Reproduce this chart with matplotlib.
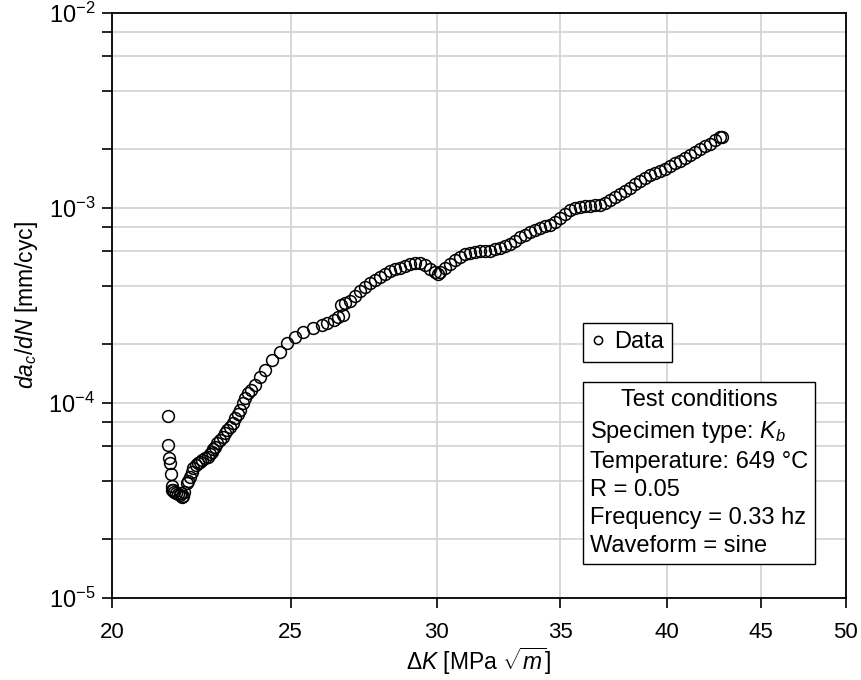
import matplotlib
matplotlib.use("Agg")
import matplotlib.pyplot as plt
from matplotlib.ticker import LogLocator, NullLocator, FixedLocator, FixedFormatter
from matplotlib.offsetbox import TextArea, VPacker, AnchoredOffsetbox

plt.rcParams['font.family'] = ['Liberation Sans', 'DejaVu Sans']
plt.rcParams['mathtext.fontset'] = 'custom'
plt.rcParams['mathtext.rm'] = 'Liberation Sans'
plt.rcParams['mathtext.it'] = 'Liberation Sans:italic'
plt.rcParams['mathtext.bf'] = 'Liberation Sans:bold'

# crack growth data
delta_k = [
    21.45, 21.45, 21.48, 21.50, 21.52, 21.55, 21.55, 21.59, 21.62, 21.66,
    21.72, 21.77, 21.80, 21.82, 21.85, 21.87, 21.95, 22.00, 22.05, 22.09,
    22.13, 22.20, 22.26, 22.33, 22.39, 22.47, 22.55, 22.60, 22.65, 22.70,
    22.74, 22.81, 22.89, 22.96, 23.03, 23.10, 23.18, 23.25, 23.32, 23.40,
    23.47, 23.55, 23.62, 23.70, 23.80, 23.91, 24.06, 24.21, 24.41, 24.67,
    24.88, 25.13, 25.40, 25.72, 26.00, 26.16, 26.38, 26.52, 26.62, 26.70,
    26.75, 26.92, 27.09, 27.26, 27.43, 27.60, 27.77, 27.95, 28.12, 28.30,
    28.48, 28.65, 28.83, 29.01, 29.20, 29.38, 29.56, 29.75, 29.93, 30.05,
    30.12, 30.31, 30.50, 30.69, 30.88, 31.08, 31.27, 31.47, 31.66, 31.86,
    32.06, 32.26, 32.46, 32.67, 32.87, 33.08, 33.28, 33.49, 33.70, 33.91,
    34.13, 34.34, 34.55, 34.77, 34.99, 35.21, 35.43, 35.65, 35.87, 36.10,
    36.32, 36.55, 36.78, 37.01, 37.24, 37.48, 37.71, 37.95, 38.18, 38.42,
    38.66, 38.91, 39.15, 39.39, 39.64, 39.89, 40.14, 40.39, 40.64, 40.90,
    41.15, 41.41, 41.67, 41.93, 42.19, 42.46, 42.72, 42.83,
]
dadn = [
    8.6e-5, 6.1e-5, 5.2e-5, 4.9e-5, 4.3e-5, 3.75e-5, 3.6e-5, 3.58e-5, 3.5e-5, 3.47e-5,
    3.42e-5, 3.37e-5, 3.45e-5, 3.30e-5, 3.35e-5, 3.51e-5, 3.89e-5, 4.0e-5, 4.19e-5, 4.45e-5,
    4.64e-5, 4.8e-5, 4.92e-5, 5.0e-5, 5.10e-5, 5.2e-5, 5.31e-5, 5.45e-5, 5.62e-5, 5.8e-5,
    5.97e-5, 6.2e-5, 6.46e-5, 6.7e-5, 7.02e-5, 7.3e-5, 7.55e-5, 7.9e-5, 8.37e-5, 8.8e-5,
    9.21e-5, 1.0e-4, 1.06e-4, 1.12e-4, 1.16e-4, 1.24e-4, 1.36e-4, 1.48e-4, 1.66e-4, 1.83e-4,
    2.02e-4, 2.19e-4, 2.32e-4, 2.42e-4, 2.51e-4, 2.56e-4, 2.67e-4, 2.75e-4, 3.18e-4, 2.83e-4,
    3.26e-4, 3.33e-4, 3.54e-4, 3.75e-4, 3.93e-4, 4.12e-4, 4.27e-4, 4.43e-4, 4.59e-4, 4.75e-4,
    4.87e-4, 4.95e-4, 5.04e-4, 5.16e-4, 5.22e-4, 5.22e-4, 5.10e-4, 4.87e-4, 4.70e-4, 4.61e-4,
    4.70e-4, 4.92e-4, 5.19e-4, 5.41e-4, 5.61e-4, 5.78e-4, 5.91e-4, 5.98e-4, 6.02e-4, 6.02e-4,
    6.05e-4, 6.16e-4, 6.27e-4, 6.35e-4, 6.54e-4, 6.77e-4, 7.06e-4, 7.31e-4, 7.53e-4, 7.71e-4,
    7.85e-4, 8.04e-4, 8.18e-4, 8.48e-4, 8.89e-4, 9.32e-4, 9.77e-4, 1.00e-3, 1.01e-3, 1.02e-3,
    1.02e-3, 1.03e-3, 1.04e-3, 1.06e-3, 1.10e-3, 1.14e-3, 1.18e-3, 1.22e-3, 1.27e-3, 1.32e-3,
    1.38e-3, 1.43e-3, 1.47e-3, 1.51e-3, 1.55e-3, 1.59e-3, 1.64e-3, 1.70e-3, 1.75e-3, 1.80e-3,
    1.87e-3, 1.94e-3, 2.00e-3, 2.07e-3, 2.14e-3, 2.22e-3, 2.30e-3, 2.31e-3,
]

x_ticks = [20, 25, 30, 35, 40, 45, 50]
conditions_title = "Test conditions"
conditions = [
    "Specimen type: $K_b$",
    "Temperature: 649 °C",
    "R = 0.05",
    "Frequency = 0.33 hz",
    "Waveform = sine",
]

fig = plt.figure(figsize=(8.62, 6.8), dpi=100)
ax = fig.add_axes([0.130, 0.1206, 0.851, 0.8603])

ax.plot(delta_k, dadn, linestyle="none", marker="o", ms=8.5, mfc="none",
        mec="black", mew=1.1, label="Data", zorder=3)

ax.set_xscale("log")
ax.set_yscale("log")
ax.set_xlim(20, 50)
ax.set_ylim(1e-5, 1e-2)

ax.xaxis.set_major_locator(FixedLocator(x_ticks))
ax.xaxis.set_major_formatter(FixedFormatter([str(t) for t in x_ticks]))
ax.xaxis.set_minor_locator(NullLocator())
ax.yaxis.set_major_locator(LogLocator(base=10, numticks=10))
ax.yaxis.set_minor_locator(LogLocator(base=10, subs=[2, 4, 6, 8], numticks=10))

ax.grid(True, which="major", axis="x", color="#d2d2d2", lw=1.2)
ax.grid(True, which="both", axis="y", color="#d2d2d2", lw=1.2)
ax.set_axisbelow(True)

ax.tick_params(which="both", direction="out", length=7, width=1.2, color="black")
ax.tick_params(axis="x", labelsize=16, pad=10)
ax.tick_params(axis="y", labelsize=17, pad=5)
for s in ax.spines.values():
    s.set_linewidth(1.3)
    s.set_color("black")

ax.set_xlabel(r"$\Delta K$ [MPa $\sqrt{m}$]", fontsize=16.5, labelpad=2)
ax.set_ylabel(r"$da_c/dN$ [mm/cyc]", fontsize=16.5, labelpad=6)

leg = ax.legend(loc="upper left", bbox_to_anchor=(0.642, 0.470),
                borderaxespad=0, fancybox=False, edgecolor="black",
                framealpha=1, fontsize=17, handlelength=0.6,
                handletextpad=0.35, markerscale=0.7, borderpad=0.35)
leg.get_frame().set_linewidth(1.0)

title_area = TextArea(conditions_title, textprops=dict(fontsize=17))
body_area = TextArea("\n".join(conditions),
                     textprops=dict(fontsize=17, linespacing=1.35, ha="left"))
pack = VPacker(children=[title_area, body_area], align="center", pad=0, sep=6)
box = AnchoredOffsetbox(loc="upper left", child=pack, pad=0.5, borderpad=0,
                        frameon=True, bbox_to_anchor=(0.642, 0.369),
                        bbox_transform=ax.transAxes)
box.patch.set_edgecolor("black")
box.patch.set_linewidth(1.0)
box.patch.set_boxstyle("square", pad=0)
ax.add_artist(box)

fig.savefig("out.png", dpi=100)
